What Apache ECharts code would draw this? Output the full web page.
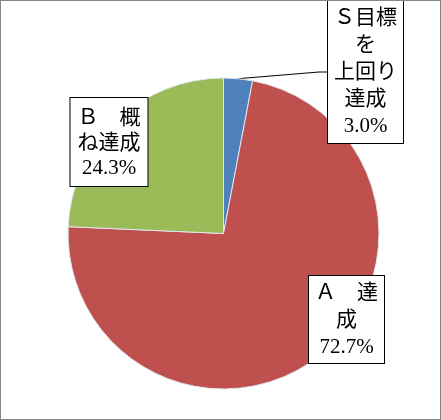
<!DOCTYPE html>
<html>
<head>
<meta charset="utf-8">
<script src="https://cdn.jsdelivr.net/npm/echarts@6/dist/echarts.min.js"></script>
<style>
  html, body { margin: 0; padding: 0; background: #fff; }
  #chart { width: 441px; height: 420px; box-sizing: border-box; border: 1px solid #878787; }
</style>
</head>
<body>
<div id="chart"></div>
<script>
// ---- data ----
var categories = ['Ｓ目標を上回り達成', 'Ａ　達成', 'Ｂ　概ね達成'];
var values = [3.0, 72.7, 24.3];
var labelLines = [
  ['Ｓ目標', 'を', '上回り', '達成'],
  ['Ａ　達', '成'],
  ['Ｂ　概', 'ね達成']
];
var colors = ['#4F81BD', '#C0504D', '#9BBB59'];

// ---- label box styling (positions / paddings) ----
var labelBoxes = [
  { cx: 364.5, top: 0,   padding: [4, 6, 3, 6], lineHeight: 27 },
  { cx: 345.5, top: 275, padding: [4, 6, 2, 6], lineHeight: 27 },
  { cx: 108,   top: 97,  padding: [8, 7, 5, 7], lineHeight: 25 }
];

var fontFamily = "'Liberation Serif', 'Noto Sans CJK JP', serif";

var data = categories.map(function (name, i) {
  var isOutside = i === 0;
  return {
    name: name,
    value: values[i],
    itemStyle: { color: colors[i] },
    label: {
      position: isOutside ? 'outside' : 'inside',
      padding: labelBoxes[i].padding,
      lineHeight: labelBoxes[i].lineHeight
    },
    labelLine: { show: isOutside }
  };
});

var chart = echarts.init(document.getElementById('chart'), null, { renderer: 'canvas' });
chart.setOption({
  backgroundColor: '#ffffff',
  animation: false,
  series: [{
    type: 'pie',
    center: [222.5, 232.5],
    radius: [0, 155.5],
    startAngle: 90,
    clockwise: true,
    avoidLabelOverlap: false,
    itemStyle: { borderColor: '#dfe7f1', borderWidth: 1 },
    emphasis: { disabled: true },
    label: {
      show: true,
      color: '#000',
      fontSize: 21,
      fontFamily: fontFamily,
      align: 'center',
      backgroundColor: '#ffffff',
      borderColor: '#000',
      borderWidth: 1,
      formatter: function (p) {
        return labelLines[p.dataIndex].join('\n') + '\n' + p.value.toFixed(1) + '%';
      }
    },
    labelLine: {
      show: true,
      length: 8,
      length2: 8,
      lineStyle: { color: '#000', width: 1 }
    },
    labelLayout: function (params) {
      var b = labelBoxes[params.dataIndex];
      return { x: b.cx, y: b.top, align: 'center', verticalAlign: 'top' };
    },
    data: data
  }]
});
</script>
</body>
</html>
